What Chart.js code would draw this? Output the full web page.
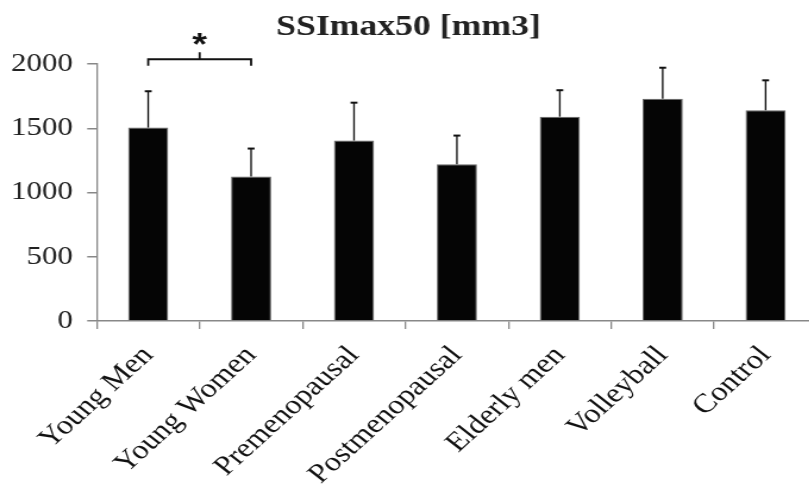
<!DOCTYPE html>
<html>
<head>
<meta charset="utf-8">
<script src="https://cdn.jsdelivr.net/npm/chart.js@4.4.1/dist/chart.umd.min.js"></script>
<style>
    html, body { margin: 0; padding: 0; background: #fff; overflow: hidden; }
    /* the reference figure is stretched sideways, so the whole chart is too */
    #wrap { width: 694px; height: 485px; transform: scaleX(1.19); transform-origin: 0 0; }
</style>
</head>
<body>
<div id="wrap"><canvas id="ssiChart" width="694" height="485"></canvas></div>
<script>
var categories = ['Young Men', 'Young Women', 'Premenopausal', 'Postmenopausal', 'Elderly men', 'Volleyball', 'Control'];
var meanValues = [1505, 1124, 1404, 1220, 1590, 1730, 1640];
var sdValues = [283, 218, 295, 223, 206, 241, 233];
var yTicks = [0, 500, 1000, 1500, 2000];
// significance bracket: between group 0 and 1, drawn at this level (data units)
var sigPair = [0, 1];
var sigLevel = 2037;
var sigLabel = '*';

var errorBars = {
    id: 'errorBars',
    afterDatasetsDraw: function (chart) {
        var ctx = chart.ctx;
        var meta = chart.getDatasetMeta(0);
        var y = chart.scales.y;
        ctx.save();
        ctx.strokeStyle = '#111';
        meta.data.forEach(function (bar, i) {
            var top = y.getPixelForValue(meanValues[i] + sdValues[i]);
            ctx.lineWidth = 1.35;
            ctx.beginPath();
            ctx.moveTo(bar.x, bar.y);
            ctx.lineTo(bar.x, top);
            ctx.stroke();
            ctx.lineWidth = 2;
            ctx.beginPath();
            ctx.moveTo(bar.x - 2.9, top);
            ctx.lineTo(bar.x + 2.9, top);
            ctx.stroke();
        });
        ctx.restore();
    }
};

var sigBracket = {
    id: 'sigBracket',
    afterDraw: function (chart) {
        var ctx = chart.ctx;
        var x = chart.scales.x;
        var y = chart.scales.y;
        var x1 = x.getPixelForValue(sigPair[0]);
        var x2 = x.getPixelForValue(sigPair[1]);
        var yy = y.getPixelForValue(sigLevel);
        var xm = (x1 + x2) / 2;
        ctx.save();
        ctx.strokeStyle = '#111';
        ctx.lineWidth = 1.8;
        ctx.beginPath();
        ctx.moveTo(x1, yy + 6.5);
        ctx.lineTo(x1, yy);
        ctx.lineTo(x2, yy);
        ctx.lineTo(x2, yy + 6.5);
        ctx.moveTo(xm, yy);
        ctx.lineTo(xm, yy - 7);
        ctx.stroke();
        ctx.fillStyle = '#111';
        ctx.font = 'bold 32px "Liberation Sans", sans-serif';
        ctx.textAlign = 'center';
        ctx.textBaseline = 'middle';
        ctx.fillText(sigLabel, xm, yy - 13);
        ctx.restore();
    }
};

new Chart(document.getElementById('ssiChart'), {
    type: 'bar',
    data: {
        labels: categories,
        datasets: [{
            data: meanValues,
            backgroundColor: '#050505',
            borderColor: '#666',
            borderWidth: 1,
            categoryPercentage: 1,
            barPercentage: 0.39
        }]
    },
    options: {
        responsive: false,
        animation: false,
        layout: { padding: { left: 0, right: 7.4, top: 0, bottom: 0 } },
        plugins: {
            legend: { display: false },
            tooltip: { enabled: false },
            title: {
                display: true,
                text: 'SSImax50 [mm3]',
                color: '#222',
                font: { family: '"Liberation Serif", serif', size: 30, weight: 'bold', lineHeight: 1.2 },
                padding: { top: 9, bottom: 19 }
            }
        },
        scales: {
            x: {
                grid: { display: true, drawOnChartArea: false, drawTicks: true, tickLength: 8, color: '#888', lineWidth: 1.3, offset: true },
                border: { color: '#888', width: 1.5 },
                ticks: {
                    color: '#111',
                    font: { family: '"Liberation Serif", serif', size: 27 },
                    minRotation: 47,
                    maxRotation: 47,
                    autoSkip: false,
                    padding: 11
                },
                afterFit: function (scale) { scale.height = 164; }
            },
            y: {
                min: yTicks[0],
                max: yTicks[yTicks.length - 1],
                afterBuildTicks: function (scale) {
                    scale.ticks = yTicks.map(function (v) { return { value: v }; });
                },
                grid: { display: true, drawOnChartArea: false, drawTicks: true, tickLength: 8, color: '#888', lineWidth: 1.5 },
                border: { color: '#888', width: 1.3 },
                ticks: {
                    color: '#222',
                    font: { family: '"Liberation Serif", serif', size: 26 },
                    padding: 12,
                    callback: function (v) { return String(v); }
                },
                afterFit: function (scale) { scale.width = 81.3; }
            }
        }
    },
    plugins: [errorBars, sigBracket]
});
</script>
</body>
</html>
